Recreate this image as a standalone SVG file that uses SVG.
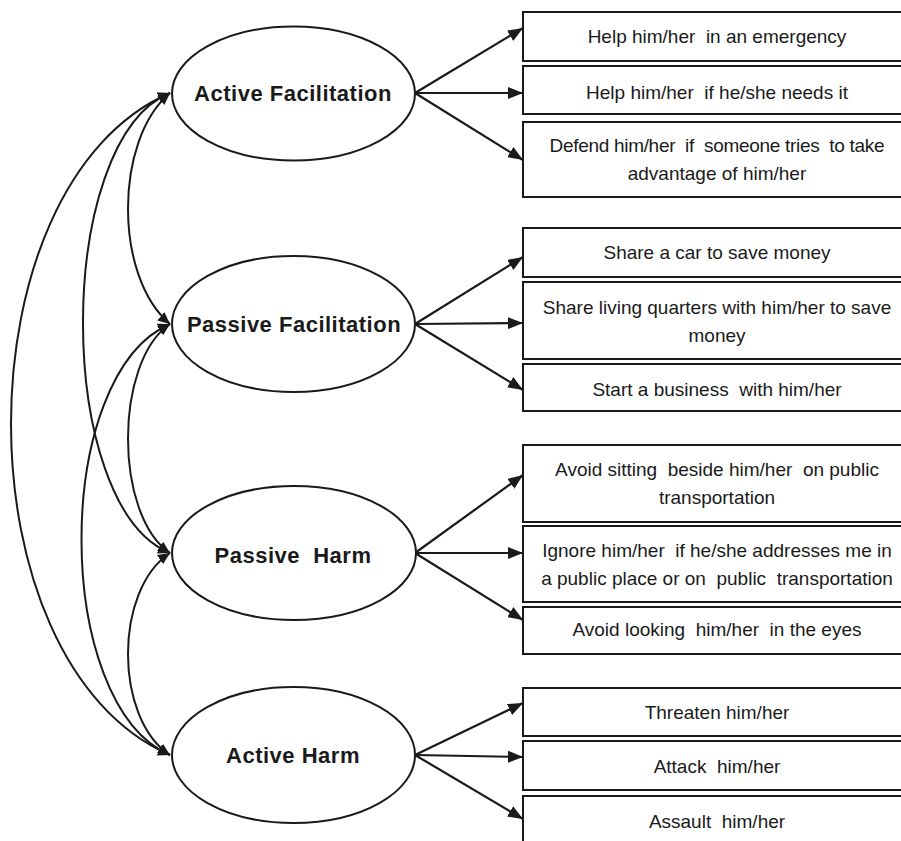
<svg xmlns="http://www.w3.org/2000/svg" width="901" height="841" viewBox="0 0 901 841">
<style>
.ell{fill:#fff;stroke:#1a1a1a;stroke-width:2}
.box{fill:#fff;stroke:#1a1a1a;stroke-width:2}
.lbl{font-family:"Liberation Sans",Arial,sans-serif;font-weight:bold;font-size:22px;letter-spacing:0.5px;fill:#1a1a1a;text-anchor:middle;white-space:pre}
.txt{font-family:"Liberation Sans",Arial,sans-serif;font-size:19px;fill:#1a1a1a;text-anchor:middle;white-space:pre}
.ln{fill:none;stroke:#1a1a1a;stroke-width:2.2}
.cv{fill:none;stroke:#1a1a1a;stroke-width:2}
</style>
<defs>
<marker id="ah" viewBox="0 0 15 12" refX="15" refY="6" markerWidth="15" markerHeight="12" markerUnits="userSpaceOnUse" orient="auto">
<path d="M0,0 L15,6 L0,12 Z" fill="#1a1a1a"/>
</marker>
<marker id="ch" viewBox="0 0 12 11" refX="12" refY="5.5" markerWidth="12" markerHeight="11" markerUnits="userSpaceOnUse" orient="auto-start-reverse">
<path d="M0,0 L12,5.5 L0,11 Z" fill="#1a1a1a"/>
</marker>
</defs>
<rect width="901" height="841" fill="#fff"/>
<g id="connectors">
<path class="cv" d="M170,93 C-42,185 -42,663 170,755" marker-start="url(#ch)" marker-end="url(#ch)"/>
<path class="cv" d="M170,93 C54,140 54,506 170,553" marker-start="url(#ch)" marker-end="url(#ch)"/>
<path class="cv" d="M170,93 C114,140 114,277 170,324" marker-start="url(#ch)" marker-end="url(#ch)"/>
<path class="cv" d="M170,324 C52,375 52,704 170,755" marker-start="url(#ch)" marker-end="url(#ch)"/>
<path class="cv" d="M170,324 C114,362 114,515 170,553" marker-start="url(#ch)" marker-end="url(#ch)"/>
<path class="cv" d="M170,553 C114,590 114,718 170,755" marker-start="url(#ch)" marker-end="url(#ch)"/>
<line class="ln" x1="415" y1="93" x2="523" y2="28" marker-end="url(#ah)"/>
<line class="ln" x1="415" y1="93" x2="523" y2="93" marker-end="url(#ah)"/>
<line class="ln" x1="415" y1="93" x2="523" y2="160" marker-end="url(#ah)"/>
<line class="ln" x1="415" y1="324" x2="523" y2="257" marker-end="url(#ah)"/>
<line class="ln" x1="415" y1="324" x2="523" y2="323" marker-end="url(#ah)"/>
<line class="ln" x1="415" y1="324" x2="523" y2="390" marker-end="url(#ah)"/>
<line class="ln" x1="415" y1="553" x2="523" y2="475" marker-end="url(#ah)"/>
<line class="ln" x1="415" y1="553" x2="523" y2="553" marker-end="url(#ah)"/>
<line class="ln" x1="415" y1="553" x2="523" y2="620" marker-end="url(#ah)"/>
<line class="ln" x1="415" y1="755" x2="523" y2="703" marker-end="url(#ah)"/>
<line class="ln" x1="415" y1="755" x2="523" y2="757" marker-end="url(#ah)"/>
<line class="ln" x1="415" y1="755" x2="523" y2="819" marker-end="url(#ah)"/>
</g>
<g id="active-facilitation"><ellipse class="ell" cx="293.5" cy="93.5" rx="121.5" ry="67"/><text class="lbl" x="293" y="101">Active Facilitation</text></g>
<g id="passive-facilitation"><ellipse class="ell" cx="293.5" cy="324" rx="121.5" ry="68"/><text class="lbl" x="294" y="332">Passive Facilitation</text></g>
<g id="passive-harm"><ellipse class="ell" cx="294" cy="553" rx="122" ry="67"/><text class="lbl" x="293" y="563">Passive  Harm</text></g>
<g id="active-harm"><ellipse class="ell" cx="293.5" cy="755" rx="121.5" ry="68"/><text class="lbl" x="293" y="763">Active Harm</text></g>
<g id="b1"><rect class="box" x="523" y="12" width="400" height="49"/><text class="txt" x="717" y="43">Help him/her  in an emergency</text></g>
<g id="b2"><rect class="box" x="523" y="66" width="400" height="48"/><text class="txt" x="717" y="99">Help him/her  if he/she needs it</text></g>
<g id="b3"><rect class="box" x="523" y="122" width="400" height="75"/><text class="txt" x="717" y="152" textLength="335" lengthAdjust="spacing">Defend him/her  if  someone tries  to take</text><text class="txt" x="717" y="180">advantage of him/her</text></g>
<g id="b4"><rect class="box" x="523" y="228" width="400" height="49"/><text class="txt" x="717" y="259">Share a car to save money</text></g>
<g id="b5"><rect class="box" x="523" y="282" width="400" height="77"/><text class="txt" x="717" y="314">Share living quarters with him/her to save</text><text class="txt" x="717" y="342">money</text></g>
<g id="b6"><rect class="box" x="523" y="364" width="400" height="47"/><text class="txt" x="717" y="396">Start a business  with him/her</text></g>
<g id="b7"><rect class="box" x="523" y="445" width="400" height="77"/><text class="txt" x="717" y="476">Avoid sitting  beside him/her  on public</text><text class="txt" x="717" y="504">transportation</text></g>
<g id="b8"><rect class="box" x="523" y="526" width="400" height="76"/><text class="txt" x="717" y="557">Ignore him/her  if he/she addresses me in</text><text class="txt" x="717" y="585">a public place or on  public  transportation</text></g>
<g id="b9"><rect class="box" x="523" y="607" width="400" height="47"/><text class="txt" x="717" y="636">Avoid looking  him/her  in the eyes</text></g>
<g id="b10"><rect class="box" x="523" y="688" width="400" height="48"/><text class="txt" x="717" y="719">Threaten him/her</text></g>
<g id="b11"><rect class="box" x="523" y="741" width="400" height="49"/><text class="txt" x="717" y="773">Attack  him/her</text></g>
<g id="b12"><rect class="box" x="523" y="796" width="400" height="60"/><text class="txt" x="717" y="828">Assault  him/her</text></g>
</svg>
